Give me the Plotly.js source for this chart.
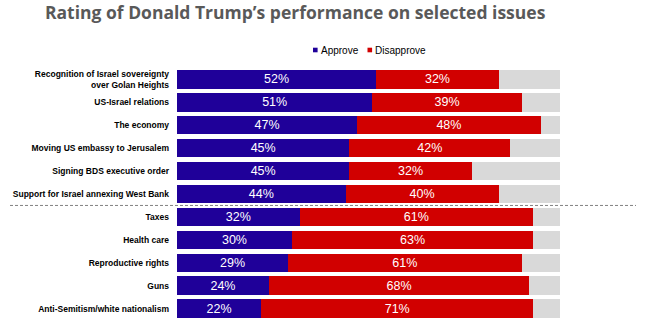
<!DOCTYPE html>
<html>
<head>
<meta charset="utf-8">
<script src="https://cdn.plot.ly/plotly-3.0.1.min.js"></script>
<style>html,body{margin:0;padding:0;background:#fff;}#chart{width:649px;height:335px;}</style>
</head>
<body>
<div id="chart"></div>
<script>
const issues = [
  "Recognition of Israel sovereignty<br>over Golan Heights",
  "US-Israel relations",
  "The economy",
  "Moving US embassy to Jerusalem",
  "Signing BDS executive order",
  "Support for Israel annexing West Bank",
  "Taxes",
  "Health care",
  "Reproductive rights",
  "Guns",
  "Anti-Semitism/white nationalism"
];
const approve = [52, 51, 47, 45, 45, 44, 32, 30, 29, 24, 22];
const disapprove = [32, 39, 48, 42, 32, 40, 61, 63, 61, 68, 71];
const remainder = approve.map((a, i) => 100 - a - disapprove[i]);
const seriesNames = ["Approve", "Disapprove"];
const chartTitle = "Rating of Donald Trump’s performance on selected issues";

const W = 649, H = 335;
const M = {l: 177, r: 89, t: 68, b: 15};
const pw = W - M.l - M.r, ph = H - M.t - M.b;
const px = x => (x - M.l) / pw;
const py = y => (H - M.b - y) / ph;

const BLUE = "#1F0099", RED = "#D10000", GRAY = "#D9D9D9";
const barText = {family: "Liberation Sans, Arial, sans-serif", size: 12.5, color: "#ffffff"};

const traces = [
  {type: "bar", orientation: "h", name: seriesNames[0], y: issues, x: approve,
   marker: {color: BLUE, line: {width: 0}},
   text: approve.map(v => v + "%"), textposition: "inside", insidetextanchor: "middle",
   textfont: barText, constraintext: "none", showlegend: false, hoverinfo: "x+name"},
  {type: "bar", orientation: "h", name: seriesNames[1], y: issues, x: disapprove,
   marker: {color: RED, line: {width: 0}},
   text: disapprove.map(v => v + "%"), textposition: "inside", insidetextanchor: "middle",
   textfont: barText, constraintext: "none", showlegend: false, hoverinfo: "x+name"},
  {type: "bar", orientation: "h", name: "Other", y: issues, x: remainder,
   marker: {color: GRAY, line: {width: 0}}, showlegend: false, hoverinfo: "skip"}
];

// custom legend (small squares + text)
const legendY = 50;
const legendItems = [
  {name: seriesNames[0], color: BLUE, sx: 313},
  {name: seriesNames[1], color: RED, sx: 367.5}
];
const shapes = [
  {type: "line", xref: "paper", yref: "y", x0: px(10), x1: px(636), y0: 5.5, y1: 5.5,
   line: {color: "#808080", width: 1, dash: "3px,2px"}}
];
const annotations = [];
legendItems.forEach(it => {
  shapes.push({type: "rect", xref: "paper", yref: "paper",
    x0: px(it.sx), x1: px(it.sx + 4.6), y0: py(legendY + 2.3), y1: py(legendY - 2.3),
    fillcolor: it.color, line: {width: 0}});
  annotations.push({xref: "paper", yref: "paper", x: px(it.sx + 5.8), y: py(legendY),
    xanchor: "left", yanchor: "middle", showarrow: false, text: it.name,
    font: {family: "Liberation Sans, Arial, sans-serif", size: 10, color: "#000000"}});
});

const layout = {
  width: W, height: H,
  margin: M,
  paper_bgcolor: "#ffffff", plot_bgcolor: "#ffffff",
  barmode: "stack",
  bargap: 0.2,
  showlegend: false,
  title: {text: "<b>" + chartTitle + "</b>", x: 45 / W, xanchor: "left", xref: "container",
          y: 1 - 13 / H, yanchor: "middle", yref: "container", pad: {t: 0, b: 0},
          font: {family: "Open Sans, sans-serif", size: 17.5, color: "#595959"}},
  xaxis: {range: [0, 100], visible: false, fixedrange: true},
  yaxis: {type: "category", categoryorder: "array", categoryarray: issues,
          range: [issues.length - 0.5, -0.5], showgrid: false, zeroline: false,
          showline: false, ticks: "", ticklabelstandoff: 7,
          tickfont: {family: "Liberation Sans, Arial, sans-serif", size: 8.5, color: "#000000", weight: "bold"}},
  shapes: shapes,
  annotations: annotations
};

Plotly.newPlot("chart", traces, layout, {displayModeBar: false, staticPlot: true});
</script>
</body>
</html>
